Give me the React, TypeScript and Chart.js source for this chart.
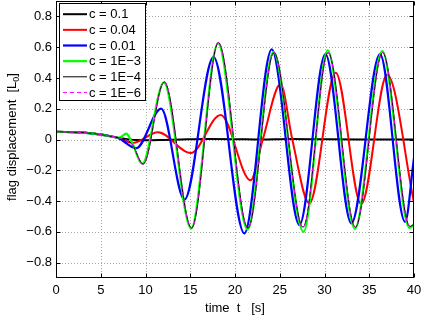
import React, { useEffect, useRef } from "react";
import { Chart, registerables } from "chart.js";

Chart.register(...registerables);

// ---- tick values / labels ----
const X_TICKS = [0, 5, 10, 15, 20, 25, 30, 35, 40];
const X_TICK_LABELS = ["0", "5", "10", "15", "20", "25", "30", "35", "40"];
const Y_TICKS = [-0.8, -0.6, -0.4, -0.2, 0, 0.2, 0.4, 0.6, 0.8];
const Y_TICK_LABELS = ["\u22120.8", "\u22120.6", "\u22120.4", "\u22120.2", "0", "0.2", "0.4", "0.6", "0.8"];

const SERIES_LABELS = ["c = 0.1", "c = 0.04", "c = 0.01", "c = 1E\u22123", "c = 1E\u22124", "c = 1E\u22126"];

// ---- series data (time [s], displacement [L0]) ----
const T_C_0_1 = [0, 3, 5, 6, 7, 8, 9, 10, 12, 14, 17, 20, 23, 26, 30, 34, 40];
const Y_C_0_1 = [0.05, 0.045, 0.032, 0.022, 0.01, 0.002, -0.004, -0.005, -0.003, 0.0, 0.003, 0.002, 0.0, 0.003, 0.001, 0.0, 0.0];

const T_C_0_04 = [0, 3, 5, 6, 7, 8.6, 11.4, 15.05, 18.4, 21.75, 23.1, 25.1, 26.4, 28.3, 31.25, 34.1, 37.0, 40];
const Y_C_0_04 = [0.05, 0.045, 0.032, 0.022, 0.008, -0.022, 0.047, -0.088, 0.16, -0.265, 0.0, 0.36, 0.0, -0.415, 0.434, -0.42, 0.42, -0.41];

const T_C_0_01 = [0, 3, 5, 6, 7, 8.95, 11.75, 14.35, 17.6, 21.05, 24.1, 27.2, 30.1, 33.0, 36.2, 39.0, 40];
const Y_C_0_01 = [0.05, 0.045, 0.032, 0.022, 0.008, -0.057, 0.2, -0.39, 0.535, -0.61, 0.585, -0.555, 0.555, -0.545, 0.555, -0.535, -0.12];

const T_C_1E3 = [0, 3, 5, 6, 7.1, 7.85, 8.45, 9.65, 12.05, 15.1, 18.1, 21.4, 24.3, 27.65, 30.35, 33.4, 36.45, 39.5, 40];
const Y_C_1E3 = [0.05, 0.045, 0.032, 0.022, 0.012, 0.038, -0.015, -0.157, 0.37, -0.578, 0.625, -0.585, 0.57, -0.6, 0.58, -0.58, 0.575, -0.575, -0.55];

const T_C_1E4 = [0, 3, 5, 6, 7.1, 8.5, 9.75, 12.1, 15.15, 18.15, 21.45, 24.35, 27.6, 30.4, 33.45, 36.5, 39.55, 40];
const Y_C_1E4 = [0.05, 0.045, 0.032, 0.022, 0.01, -0.03, -0.16, 0.375, -0.575, 0.63, -0.575, 0.565, -0.57, 0.565, -0.57, 0.565, -0.565, -0.55];

const T_C_1E6 = [0, 3, 5, 6, 7.1, 8.5, 9.75, 12.1, 15.15, 18.15, 21.45, 24.35, 27.6, 30.4, 33.45, 36.5, 39.55, 40];
const Y_C_1E6 = [0.05, 0.045, 0.032, 0.022, 0.01, -0.03, -0.162, 0.377, -0.578, 0.632, -0.578, 0.566, -0.572, 0.566, -0.572, 0.566, -0.567, -0.55];

const SERIES_T = [T_C_0_1, T_C_0_04, T_C_0_01, T_C_1E3, T_C_1E4, T_C_1E6];
const SERIES_Y = [Y_C_0_1, Y_C_0_04, Y_C_0_01, Y_C_1E3, Y_C_1E4, Y_C_1E6];
const COLORS = ["#000000", "#ff0000", "#0000ff", "#00ff00", "#000000", "#ff00ff"];
const WIDTHS = [2, 2, 2.2, 2.2, 1, 1];
const DASHES: number[][] = [[], [], [], [], [], [4, 3]];

const FONT = "'Liberation Sans', Arial, Helvetica, sans-serif";

const framePlugin = {
  id: "matlabFrame",
  beforeDatasetsDraw(chart: any) {
    const { ctx, chartArea } = chart;
    const xs = chart.scales.x;
    const ys = chart.scales.y;
    ctx.save();
    ctx.strokeStyle = "#a8a8a8";
    ctx.lineWidth = 1;
    ctx.setLineDash([1, 2]);
    X_TICKS.forEach((v) => {
      const px = Math.round(xs.getPixelForValue(v)) + 0.5;
      if (px <= chartArea.left + 1 || px >= chartArea.right - 1) return;
      ctx.beginPath();
      ctx.moveTo(px, chartArea.top);
      ctx.lineTo(px, chartArea.bottom);
      ctx.stroke();
    });
    Y_TICKS.forEach((v) => {
      const py = Math.round(ys.getPixelForValue(v)) + 0.5;
      ctx.beginPath();
      ctx.moveTo(chartArea.left, py);
      ctx.lineTo(chartArea.right, py);
      ctx.stroke();
    });
    ctx.restore();
  },
  afterDatasetsDraw(chart: any) {
    const { ctx, chartArea } = chart;
    const xs = chart.scales.x;
    const ys = chart.scales.y;
    const L = chartArea.left + 0.5;
    const R = chartArea.right - 0.5;
    const T = chartArea.top + 0.5;
    const B = chartArea.bottom - 0.5;
    ctx.save();
    ctx.setLineDash([]);
    ctx.strokeStyle = "#000";
    ctx.lineWidth = 1;
    ctx.strokeRect(L, T, R - L, B - T);
    // inward ticks
    const tl = 4;
    X_TICKS.forEach((v) => {
      const px = Math.round(xs.getPixelForValue(v)) + 0.5;
      ctx.beginPath();
      ctx.moveTo(px, B);
      ctx.lineTo(px, B - tl);
      ctx.moveTo(px, T);
      ctx.lineTo(px, T + tl);
      ctx.stroke();
    });
    Y_TICKS.forEach((v) => {
      const py = Math.round(ys.getPixelForValue(v)) + 0.5;
      ctx.beginPath();
      ctx.moveTo(L, py);
      ctx.lineTo(L + tl, py);
      ctx.moveTo(R, py);
      ctx.lineTo(R - tl, py);
      ctx.stroke();
    });

    // legend
    const bx = 59.5, by = 3.5, bw = 86, bh = 97;
    ctx.fillStyle = "#fff";
    ctx.fillRect(bx, by, bw, bh);
    ctx.strokeStyle = "#000";
    ctx.strokeRect(bx, by, bw, bh);
    ctx.font = `13px ${FONT}`;
    ctx.textBaseline = "middle";
    ctx.textAlign = "left";
    SERIES_LABELS.forEach((label, i) => {
      const y = 14.2 + i * 15.65;
      ctx.beginPath();
      ctx.strokeStyle = COLORS[i];
      ctx.lineWidth = WIDTHS[i];
      ctx.setLineDash(DASHES[i]);
      ctx.moveTo(63, y);
      ctx.lineTo(87, y);
      ctx.stroke();
      ctx.setLineDash([]);
      ctx.fillStyle = "#000";
      ctx.fillText(label, 89, y + 0.5);
    });

    // axis titles
    ctx.fillStyle = "#000";
    ctx.textBaseline = "alphabetic";
    ctx.textAlign = "center";
    ctx.font = `13px ${FONT}`;
    ctx.fillText("time  t   [s]", (chartArea.left + chartArea.right) / 2, 311.5);

    // y title with subscript
    ctx.save();
    ctx.translate(16, 137);
    ctx.rotate(-Math.PI / 2);
    const main = "flag displacement  [L";
    ctx.font = `13px ${FONT}`;
    const wMain = ctx.measureText(main).width;
    ctx.font = `9px ${FONT}`;
    const wSub = ctx.measureText("0").width;
    ctx.font = `13px ${FONT}`;
    const wEnd = ctx.measureText("]").width;
    const total = wMain + wSub + wEnd;
    let x0 = -total / 2;
    ctx.textAlign = "left";
    ctx.fillText(main, x0, 0);
    x0 += wMain;
    ctx.font = `9px ${FONT}`;
    ctx.fillText("0", x0, 3);
    x0 += wSub;
    ctx.font = `13px ${FONT}`;
    ctx.fillText("]", x0, 0);
    ctx.restore();

    ctx.restore();
  },
};

export default function App() {
  const canvasRef = useRef<HTMLCanvasElement | null>(null);

  useEffect(() => {
    document.body.style.margin = "0";
    const canvas = canvasRef.current;
    if (!canvas) return;

    Chart.defaults.font.family = FONT;
    Chart.defaults.font.size = 13;
    Chart.defaults.color = "#000";

    const datasets = SERIES_LABELS.map((label, i) => ({
      label,
      data: SERIES_T[i].map((t, j) => ({ x: t, y: SERIES_Y[i][j] })),
      borderColor: COLORS[i],
      backgroundColor: COLORS[i],
      borderWidth: WIDTHS[i],
      borderDash: DASHES[i],
      pointRadius: 0,
      fill: false,
      cubicInterpolationMode: "monotone" as const,
      order: SERIES_LABELS.length - i,
    }));

    const chart = new Chart(canvas, {
      type: "line",
      data: { datasets },
      options: {
        responsive: false,
        animation: false,
        events: [],
        layout: { padding: { top: 1, right: 8, left: 0, bottom: 0 } },
        plugins: {
          legend: { display: false },
          tooltip: { enabled: false },
          title: { display: false },
        },
        scales: {
          x: {
            type: "linear",
            min: 0,
            max: 40,
            grid: { display: false, drawTicks: false, tickLength: 0 },
            border: { display: false },
            afterBuildTicks: (scale: any) => {
              scale.ticks = X_TICKS.map((v) => ({ value: v }));
            },
            afterFit: (scale: any) => {
              scale.height = 38;
              scale.paddingLeft = 0;
              scale.paddingRight = 0;
              scale.paddingTop = 0;
              scale.paddingBottom = 0;
            },
            ticks: {
              autoSkip: false,
              maxRotation: 0,
              padding: 5,
              font: { size: 13, family: FONT },
              color: "#000",
              callback: (_v: any, i: number) => X_TICK_LABELS[i],
            },
          },
          y: {
            type: "linear",
            min: -0.9,
            max: 0.9,
            grid: { display: false, drawTicks: false, tickLength: 0 },
            border: { display: false },
            afterBuildTicks: (scale: any) => {
              scale.ticks = Y_TICKS.map((v) => ({ value: v }));
            },
            afterFit: (scale: any) => {
              scale.width = 56;
              scale.paddingLeft = 0;
              scale.paddingRight = 0;
              scale.paddingTop = 0;
              scale.paddingBottom = 0;
            },
            ticks: {
              autoSkip: false,
              padding: 4,
              font: { size: 13, family: FONT },
              color: "#000",
              callback: (_v: any, i: number) => Y_TICK_LABELS[i],
            },
          },
        },
      },
      plugins: [framePlugin],
    });

    return () => {
      chart.destroy();
    };
  }, []);

  return (
    <div style={{ width: 422, height: 316, background: "#fff" }}>
      <canvas ref={canvasRef} width={422} height={316} style={{ display: "block" }} />
    </div>
  );
}
